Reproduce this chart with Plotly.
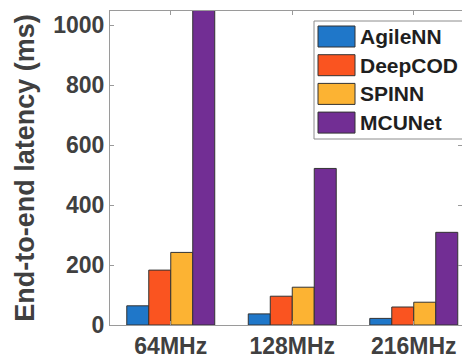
import plotly.graph_objects as go

categories = ["64MHz", "128MHz", "216MHz"]
series_names = ["AgileNN", "DeepCOD", "SPINN", "MCUNet"]
agilenn = [64, 37, 22]
deepcod = [183, 96, 60]
spinn = [242, 126, 76]
mcunet = [1100, 522, 309]
series_values = [agilenn, deepcod, spinn, mcunet]
colors = ["#1f77c9", "#fa5420", "#fcb333", "#722e94"]
y_ticks = [0, 200, 400, 600, 800, 1000]

W, H = 462, 359
L, T, B, R = 110, 11, 34, 0

fig = go.Figure()
for name, vals, col in zip(series_names, series_values, colors):
    fig.add_trace(go.Bar(
        x=categories, y=vals, name=name, marker_color=col,
        marker_line_color="#333333", marker_line_width=1, showlegend=False,
    ))

text_col = "#404040"
axis_col = "#9a9a9a"
font_family = "Liberation Sans, Arial, sans-serif"

fig.update_layout(
    width=W, height=H,
    margin=dict(l=L, r=R, t=T, b=B, pad=0),
    paper_bgcolor="white", plot_bgcolor="white",
    barmode="group", bargap=0.276, bargroupgap=0,
    font=dict(family=font_family, color=text_col),
)
fig.update_xaxes(
    range=[-0.5, 2.397], showline=True, linecolor=axis_col, linewidth=1,
    mirror="ticks", ticks="inside", ticklen=4, tickcolor=axis_col,
    showgrid=False, zeroline=False,
    tickfont=dict(size=23, family=font_family, color=text_col, weight="bold"),
)
fig.update_yaxes(
    range=[0, 1047], tickvals=y_ticks, showline=True, linecolor=axis_col, linewidth=1,
    mirror="ticks", ticks="inside", ticklen=4, tickcolor=axis_col,
    showgrid=False, zeroline=False,
    tickfont=dict(size=23, family=font_family, color=text_col, weight="bold"),
    title=dict(text="End-to-end latency (ms)", standoff=10,
               font=dict(size=27, family=font_family, color=text_col, weight="bold")),
)

# legend box drawn in pixel-based paper coords
pw = W - L - R
ph = H - T - B
def px(x):
    return (x - L) / pw
def py(y):
    return (H - B - y) / ph

fig.add_shape(type="rect", xref="paper", yref="paper",
              x0=px(314), x1=px(470), y0=py(139), y1=py(21),
              line=dict(color="#8c8c8c", width=1), fillcolor="white", layer="above")
for i, (name, col) in enumerate(zip(series_names, colors)):
    top = 26 + i * 28.7
    fig.add_shape(type="rect", xref="paper", yref="paper",
                  x0=px(318), x1=px(355), y0=py(top + 21), y1=py(top),
                  line=dict(color="#333333", width=1), fillcolor=col, layer="above")
    fig.add_annotation(xref="paper", yref="paper", x=px(358), y=py(top + 10.5),
                       text=name, showarrow=False, xanchor="left", yanchor="middle",
                       font=dict(size=21, family=font_family, color="#1f1f1f", weight="bold"))

fig.write_html("out.html")
